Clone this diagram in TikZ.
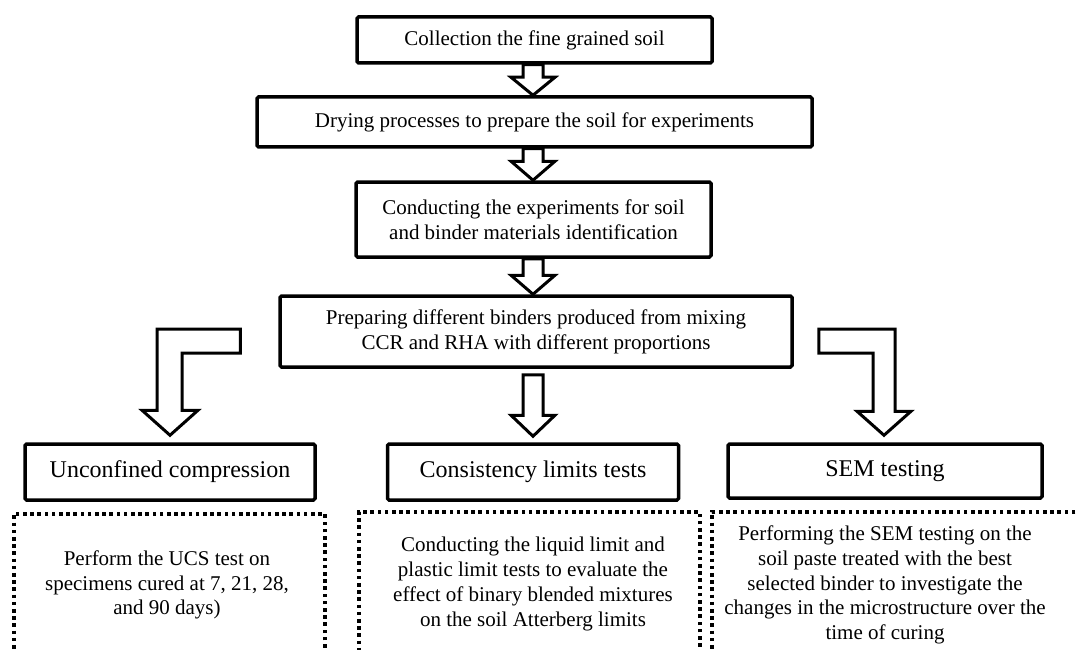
\documentclass[tikz,border=0pt]{standalone}
\usepackage{fontspec}
\setmainfont{Liberation Serif}
\usetikzlibrary{calc}
\newcommand\blockdown[3]{%
  \draw[barrow] let \p1=(#1), \p2=(#2) in
    (\x2-10,\y1) -- (\x2-10,\y2+#3) -- (\x2-22,\y2+#3) -- (\x2,\y2) --
    (\x2+22,\y2+#3) -- (\x2+10,\y2+#3) -- (\x2+10,\y1) -- cycle;}
\begin{document}
\begin{tikzpicture}[x=1pt,y=-1pt,
  box/.style={draw, line width=3.5pt, rounded corners=1.5pt, fill=white, align=center,
    inner sep=0pt, font=\fontsize{21}{25}\selectfont},
  lbox/.style={box, font=\fontsize{24}{28}\selectfont},
  dbox/.style={draw, line width=3.5pt, dash pattern=on 3.6pt off 3.6pt, inner sep=0pt, anchor=north west},
  dtext/.style={align=center, inner sep=0pt, font=\fontsize{21}{24.8}\selectfont},
  barrow/.style={draw, line width=3pt, fill=white, line join=miter}]
\useasboundingbox (0,0) rectangle (1076,650);
\clip (0,0) rectangle (1076,650);

% main chain
\node[box, minimum width=355pt, minimum height=46pt] (b1) at (534.5,40) {Collection the fine grained soil};
\node[box, minimum width=555pt, minimum height=50pt] (b2) at (534.5,122) {Drying processes to prepare the soil for experiments};
\node[box, minimum width=355pt, minimum height=75pt] (b3) at (533.5,219.5) {Conducting the experiments for soil\\and binder materials identification};
\node[box, minimum width=512pt, minimum height=71pt] (b4) at (536,331.5) {Preparing different binders produced from mixing\\CCR and RHA with different proportions};

% second row
\node[lbox, minimum width=290pt, minimum height=56pt] (uc) at (170,472) {Unconfined compression};
\node[lbox, minimum width=291pt, minimum height=56pt] (cl) at (533,472) {Consistency limits tests};
\node[lbox, minimum width=314pt, minimum height=54pt] (sem) at (885,471) {SEM testing};

% arrows (tip x taken from the target node)
\coordinate (t2) at ($(b2.north)+(-1.5,0)$);
\coordinate (t3) at ($(b3.north)+(-0.5,0)$);
\coordinate (t4) at ($(b4.north)+(-3,0)$);
\blockdown{b1.south}{t2}{18}
\blockdown{b2.south}{t3}{19}
\blockdown{b3.south}{t4}{19}
\blockdown{$(b4.south)+(0,6)$}{$(cl.north)+(0,-6)$}{21}

\coordinate (lstart) at ($(b4.west)+(-38,9.5)$);
\coordinate (ltip) at ($(uc.north)+(0,-7)$);
\draw[barrow] let \p1=(lstart), \p2=(ltip) in
  (\x1,\y1+12) -- (\x2-13,\y1+12) -- (\x2-13,\y2+25) -- (\x2-28,\y2+25) -- (\x2,\y2) --
  (\x2+28,\y2+25) -- (\x2+12,\y2+25) -- (\x2+12,\y1-12) -- (\x1,\y1-12) -- cycle;

\coordinate (rstart) at ($(b4.east)+(25,9.5)$);
\coordinate (rtip) at ($(sem.north)+(-1,-7)$);
\draw[barrow] let \p1=(rstart), \p2=(rtip) in
  (\x1,\y1+12) -- (\x2+11,\y1+12) -- (\x2+11,\y2+24) -- (\x2+27,\y2+24) -- (\x2,\y2) --
  (\x2-27,\y2+24) -- (\x2-11,\y2+24) -- (\x2-11,\y1-12) -- (\x1,\y1-12) -- cycle;

% dotted boxes
\node[dbox, minimum width=311pt, minimum height=190pt] (d1) at (12,512) {};
\node[dbox, minimum width=341pt, minimum height=190pt] (d2) at (357,510) {};
\node[dbox, minimum width=400pt, minimum height=190pt] (d3) at (710,510) {};

\node[dtext] (x1) at (167,585) {Perform the UCS test on\\specimens cured at 7, 21, 28,\\and 90 days)};
\node[dtext] (x2) at (533,584) {Conducting the liquid limit and\\plastic limit tests to evaluate the\\effect of binary blended mixtures\\on the soil Atterberg limits};
\node[dtext] (x3) at (885,585) {Performing the SEM testing on the\\soil paste treated with the best\\selected binder to investigate the\\changes in the microstructure over the\\time of curing};
\end{tikzpicture}
\end{document}
